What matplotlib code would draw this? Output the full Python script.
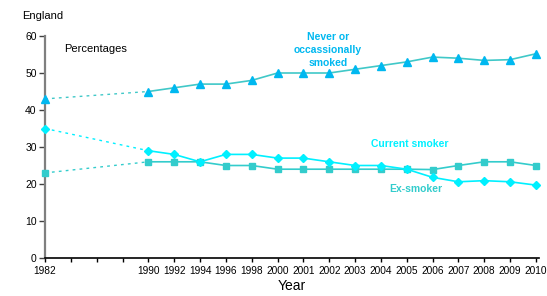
import matplotlib
matplotlib.use('Agg')
import matplotlib.pyplot as plt

plt.rcParams['font.family'] = ['Liberation Sans', 'DejaVu Sans']

# Survey years (1982 then a gap of three empty slots before 1990)
years = ['1982', '1990', '1992', '1994', '1996', '1998', '2000', '2001',
         '2002', '2003', '2004', '2005', '2006', '2007', '2008', '2009', '2010']
slot_labels = ['1982', '', '', ''] + years[1:]

never = [43, 45, 46, 47, 47, 48, 50, 50, 50, 51, 52, 53, 54.3, 54, 53.4, 53.6, 55.2]
current = [35, 29, 28, 26, 28, 28, 27, 27, 26, 25, 25, 24, 21.8, 20.6, 20.9, 20.6, 19.7]
ex_smoker = [23, 26, 26, 26, 25, 25, 24, 24, 24, 24, 24, 24, 23.9, 25, 26, 26, 25]

c_never_line = '#40C8C8'
c_never_mark = '#00B8F0'
c_current = '#00F0FF'
c_ex = '#33CCCC'

x = [slot_labels.index(y) for y in years]

fig = plt.figure(figsize=(5.47, 2.96), dpi=100)
ax = fig.add_axes([45 / 547, 1 - 258 / 296, 494 / 547, 222 / 296])


def draw(vals, line_c, mark_c, marker, ms):
    # dotted link across the gap, solid afterwards
    ax.plot(x[:2], vals[:2], color=line_c, lw=1, ls=(0, (2, 3)), zorder=2)
    ax.plot(x[1:], vals[1:], color=line_c, lw=1.2, zorder=2)
    ax.plot(x, vals, ls='none', marker=marker, ms=ms, color=mark_c,
            markeredgecolor=mark_c, zorder=3, clip_on=False)


draw(ex_smoker, c_ex, c_ex, 's', 5)
draw(current, c_current, c_current, 'D', 4.5)
draw(never, c_never_line, c_never_mark, '^', 5.5)

ax.set_xlim(0, 19.12)
ax.set_ylim(0, 60)
ax.set_xticks(range(len(slot_labels)))
ax.set_xticklabels(slot_labels, fontsize=7.3)
ax.set_yticks(range(0, 61, 10))
ax.tick_params(axis='y', labelsize=7.5, length=4, width=1, color='#404040', pad=2)
ax.tick_params(axis='x', length=3, width=1, color='black', pad=3)

for s in ['top', 'right']:
    ax.spines[s].set_visible(False)
ax.spines['left'].set_color('#7f7f7f')
ax.spines['left'].set_linewidth(1.6)
ax.spines['bottom'].set_color('black')
ax.spines['bottom'].set_linewidth(1.2)

ax.set_xlabel('Year', fontsize=10, labelpad=2)

fig.text(22 / 547, 1 - 16 / 296, 'England', fontsize=8, va='center')
fig.text(64 / 547, 1 - 49 / 296, 'Percentages', fontsize=8, va='center')

fig.text(328 / 547, 1 - 50 / 296, 'Never or\noccassionally\nsmoked', fontsize=7.5,
         fontweight='bold', color=c_never_mark, ha='center', va='center',
         linespacing=1.35)
fig.text(410 / 547, 1 - 144 / 296, 'Current smoker', fontsize=7.5,
         fontweight='bold', color=c_current, ha='center', va='center')
fig.text(416 / 547, 1 - 189 / 296, 'Ex-smoker', fontsize=7.5,
         fontweight='bold', color=c_ex, ha='center', va='center')

fig.savefig('out.png', dpi=100)
